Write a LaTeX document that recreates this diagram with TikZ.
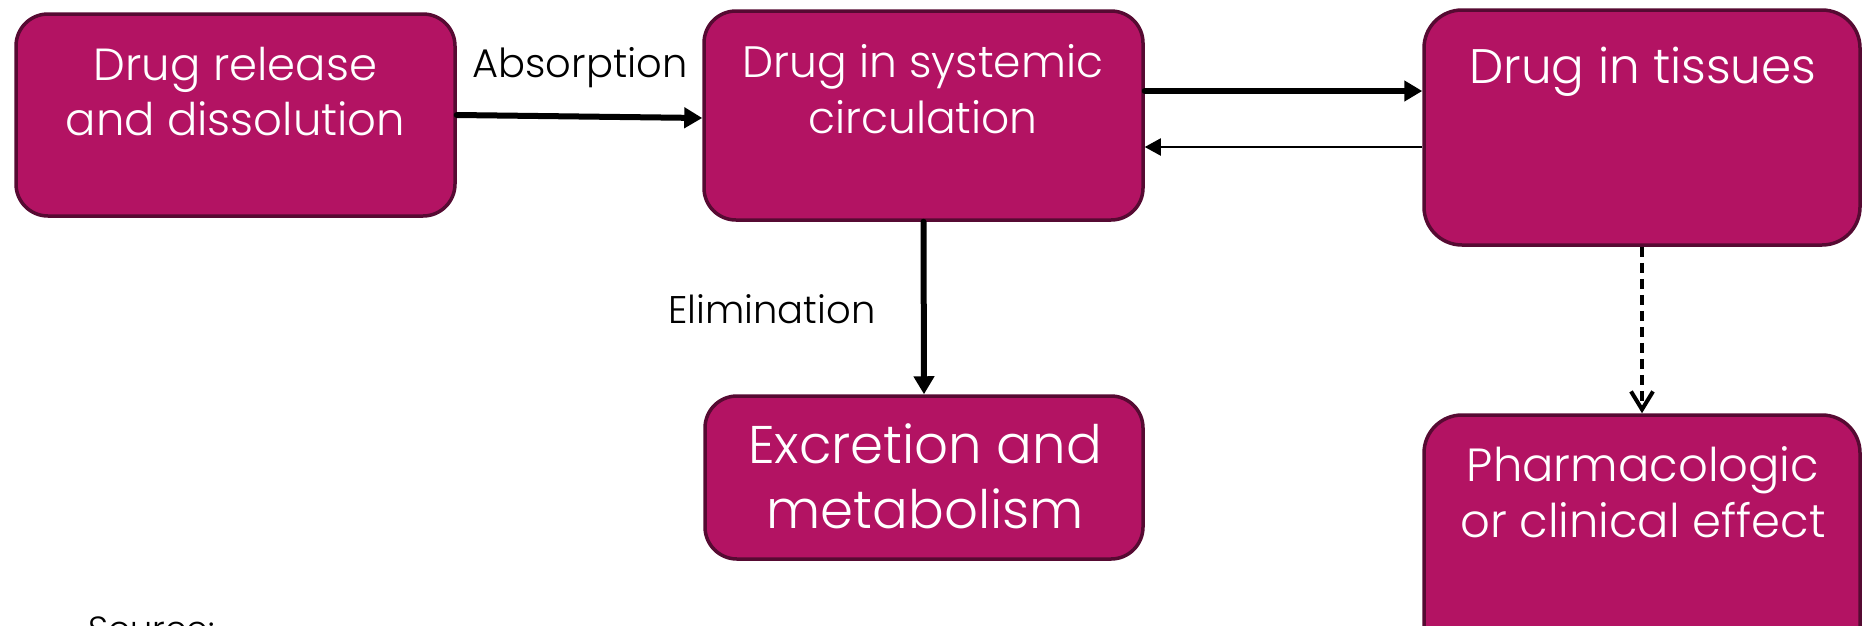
\documentclass[tikz,border=0pt]{standalone}
\usepackage{fontspec}
\setmainfont{Poppins}[UprightFont=* Light]
\usetikzlibrary{arrows.meta}
\definecolor{boxfill}{HTML}{B31363}
\definecolor{boxline}{HTML}{560A32}
\tikzset{
  box/.style={draw=boxline, fill=boxfill, line width=3.5pt, rounded corners=32pt, inner sep=0pt},
  boxtext/.style={text=white, anchor=base, inner sep=0pt},
  lbl/.style={text=black, anchor=base, inner sep=0pt},
  thick arrow/.style={line width=6pt, line cap=round, -{Triangle[length=18pt,width=20pt]}},
  thin arrow/.style={line width=2pt, -{Triangle[length=16pt,width=17pt]}},
  dash arrow/.style={line width=4pt, dash pattern=on 10pt off 6pt, -{Straight Barb[length=18pt,width=22pt,line width=4pt]}}
}
\begin{document}
\begin{tikzpicture}[x=1pt,y=-1pt]
\useasboundingbox (0,0) rectangle (1863,625);
\clip (0,0) rectangle (1863,625);
\fill[white] (0,0) rectangle (1863,625);
% boxes
\node[box, minimum width=439pt, minimum height=202pt] (b1) at (235.5,115) {};
\node[box, minimum width=439pt, minimum height=209pt] (b2) at (923.5,115.5) {};
\node[box, minimum width=436pt, minimum height=235pt, rounded corners=38pt] (b3) at (1642,127.5) {};
\node[box, minimum width=438pt, minimum height=163pt] (b4) at (924,477.5) {};
\node[box, minimum width=436pt, minimum height=283pt, rounded corners=38pt] (b5) at (1642,556.5) {};
% box texts
\node[boxtext, font=\fontsize{45}{54}\selectfont] (t1a) at (235.5,80) {Drug release};
\node[boxtext, font=\fontsize{45}{54}\selectfont] (t1b) at (235.5,135) {and dissolution};
\node[boxtext, font=\fontsize{44}{52}\selectfont] (t2a) at (923,77) {Drug in systemic};
\node[boxtext, font=\fontsize{44}{52}\selectfont] (t2b) at (923,133) {circulation};
\node[boxtext, font=\fontsize{48.5}{56}\selectfont] (t3) at (1643,83) {Drug in tissues};
\node[boxtext, font=\fontsize{53}{62}\selectfont] (t4a) at (925,463) {Excretion and};
\node[boxtext, font=\fontsize{53}{62}\selectfont] (t4b) at (925,528) {metabolism};
\node[boxtext, font=\fontsize{46.5}{54}\selectfont] (t5a) at (1643,481) {Pharmacologic};
\node[boxtext, font=\fontsize{46.5}{54}\selectfont] (t5b) at (1643,537) {or clinical effect};
% labels
\node[lbl, font=\fontsize{40}{48}\selectfont] (labs) at (580,77) {Absorption};
\node[lbl, font=\fontsize{38.5}{46}\selectfont] (lelim) at (772,323) {Elimination};
\node[lbl, font=\fontsize{35}{42}\selectfont, anchor=base west] (lsrc) at (88,641) {Source:};
% connectors
\draw[thick arrow] (b1.east) -- ([yshift=-2.5pt]b2.west);
\draw[thick arrow] ([yshift=24.5pt]b2.east) -- ([yshift=36.5pt]b3.west);
\draw[thin arrow] ([yshift=-19.5pt]b3.west) -- ([yshift=-31.5pt]b2.east);
\draw[thick arrow] (b2.south) -- (b4.north);
\draw[dash arrow] (b3.south) -- (b5.north);
\end{tikzpicture}
\end{document}
